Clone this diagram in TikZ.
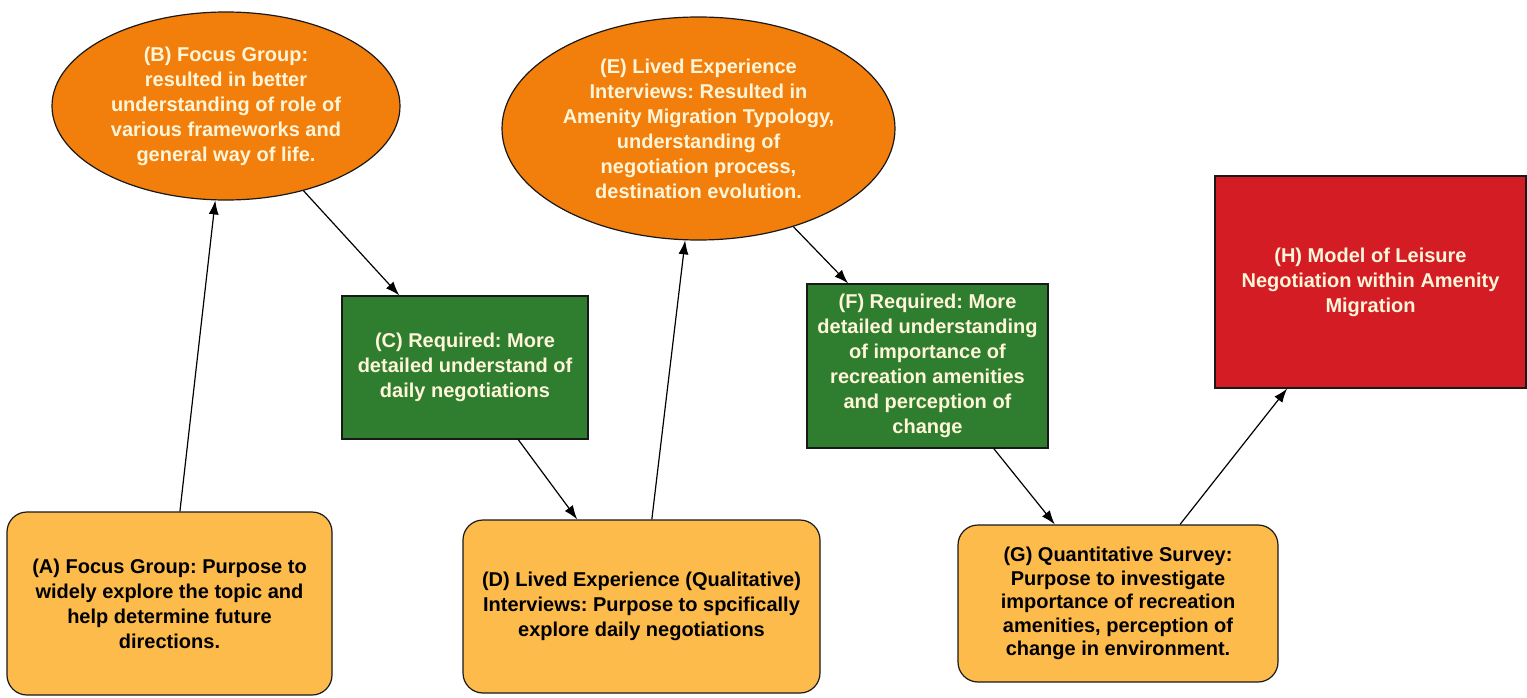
\documentclass[tikz,border=0pt]{standalone}
\usepackage{fontspec}
\setmainfont{Liberation Sans}
\usetikzlibrary{shapes.geometric, arrows.meta}
\frenchspacing

\definecolor{studyfill}{HTML}{FDBB4C}
\definecolor{resultfill}{HTML}{F27E0C}
\definecolor{needfill}{HTML}{2F7D2F}
\definecolor{modelfill}{HTML}{D41C24}
\definecolor{lighttext}{HTML}{FFF6DA}

\begin{document}
\begin{tikzpicture}[x=1pt, y=-1pt,
	box/.style={draw=black!90, line width=1.2pt, align=center, inner sep=0pt,
		font=\fontsize{20}{25}\selectfont\bfseries},
	study/.style={box, rectangle, rounded corners=20pt, fill=studyfill, text=black},
	result/.style={box, ellipse, fill=resultfill, text=lighttext},
	need/.style={box, rectangle, fill=needfill, text=lighttext},
	model/.style={box, rectangle, fill=modelfill, text=lighttext},
	>={Latex[length=14pt, width=10pt]}]
	\useasboundingbox (0,0) rectangle (1527,698);

	\node[study, minimum width=325pt, minimum height=183pt] (a) at (169.5,603.5)
		{(A) Focus Group: Purpose to\\widely explore the topic and\\help determine future\\directions.};
	\node[result, minimum width=348pt, minimum height=188pt] (b) at (226,106)
		{(B) Focus Group:\\resulted in better\\understanding of role of\\various frameworks and\\general way of life.};
	\node[need, minimum width=246pt, minimum height=143pt] (c) at (465,367.5)
		{(C) Required: More\\detailed understand of\\daily negotiations};
	\node[study, minimum width=357pt, minimum height=173pt] (d) at (641.5,606.5)
		{(D) Lived Experience (Qualitative)\\Interviews: Purpose to spcifically\\explore daily negotiations};
	\node[result, minimum width=393pt, minimum height=223pt] (e) at (698.5,128.5)
		{(E) Lived Experience\\Interviews: Resulted in\\Amenity Migration Typology,\\understanding of\\negotiation process,\\destination evolution.};
	\node[need, minimum width=241pt, minimum height=164pt] (f) at (927.5,366)
		{(F) Required: More\\detailed understanding\\of importance of\\recreation amenities\\and perception of\\change};
	\node[study, minimum width=320pt, minimum height=157pt,
		font=\fontsize{20}{23.5}\selectfont\bfseries] (g) at (1118,603.5)
		{(G) Quantitative Survey:\\Purpose to investigate\\importance of recreation\\amenities, perception of\\change in environment.};
	\node[model, minimum width=311pt, minimum height=212pt] (h) at (1370.5,282)
		{(H) Model of Leisure\\Negotiation within Amenity\\Migration};

	\draw [->, line width=1.2pt]
		(a) edge (b)
		(b) edge (c)
		(c) edge (d)
		(d) edge (e)
		(e) edge (f)
		(f) edge (g)
		(g) edge (h)
		;
\end{tikzpicture}
\end{document}
